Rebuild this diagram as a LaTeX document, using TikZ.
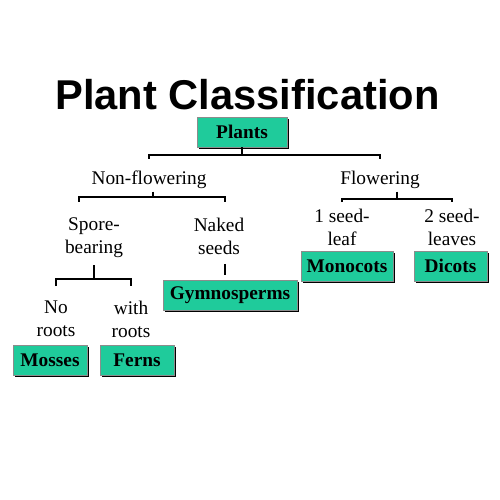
\documentclass[tikz,border=0pt]{standalone}
\usepackage{fontspec}
\setmainfont{Liberation Serif}
\newfontfamily\titlefont{Liberation Sans}
\usetikzlibrary{positioning,shadows}
\definecolor{plantgreen}{RGB}{31,203,155}

\begin{document}
\begin{tikzpicture}[
    taxon/.style={draw=black!45, fill=plantgreen, minimum height=0.6cm, inner sep=1pt,
      font=\fontsize{11}{13}\selectfont\bfseries,
      drop shadow={shadow xshift=0.9pt, shadow yshift=-0.9pt, fill=black, opacity=1}},
    txt/.style={font=\fontsize{11}{13}\selectfont, align=center, inner sep=1pt},
    brk/.style={line width=1.1pt},
  ]
    \useasboundingbox (0,0) rectangle (10,10);

    % Title
    \node[anchor=base, font=\titlefont\bfseries\fontsize{23.7}{26}\selectfont] (title) at (4.95,7.8) {Plant Classification};

    % Groups (green boxes)
    \node[taxon, minimum width=1.8cm] (plants) at (4.84,7.36) {Plants};
    \node[taxon, minimum width=2.68cm] (gymno) at (4.6,4.1) {Gymnosperms};
    \node[taxon, minimum width=1.84cm] (monocots) at (6.94,4.68) {Monocots};
    \node[taxon, minimum width=1.46cm] (dicots) at (9.01,4.68) {Dicots};
    \node[taxon, minimum width=1.48cm] (mosses) at (1.0,2.8) {Mosses};
    \node[taxon, minimum width=1.48cm] (ferns) at (2.74,2.8) {Ferns};

    % Branch labels
    \node[txt] (nonflow) at (2.98,6.405) {Non-flowering};
    \node[txt] (flow) at (7.60,6.405) {Flowering};
    \node[txt] (spore) at (1.88,5.24) {Spore-\\bearing};
    \node[txt] (naked) at (4.38,5.28) {Naked\\seeds};
    \node[txt] (oneleaf) at (6.84,5.45) {1 seed-\\leaf};
    \node[txt] (twoleaf) at (9.04,5.45) {2 seed-\\leaves};
    \node[txt] (noroots) at (1.12,3.62) {No\\roots};
    \node[txt] (withroots) at (2.62,3.62) {with\\roots};

    % Junctions of the brackets
    \coordinate (j1) at ([yshift=-0.16cm]plants.south);
    \coordinate (j2) at ([xshift=0.08cm, yshift=-0.12cm]nonflow.south);
    \coordinate (j3) at ([yshift=-0.38cm]spore.south);
    \coordinate (j4) at ([xshift=0.34cm, yshift=-0.16cm]flow.south);

    % Brackets
    \draw[brk] (plants.south) -- (j1);
    \draw[brk, shorten <=0.2cm, shorten >=0.2cm] (nonflow.north) |- (j1) -| (flow.north);
    \draw[brk, shorten <=0.02cm] ([xshift=0.08cm]nonflow.south) -- (j2);
    \draw[brk, shorten <=0.28cm, shorten >=0.28cm] ([xshift=-0.3cm]spore.north) |- (j2) -| ([xshift=0.12cm]naked.north);
    \draw[brk, shorten <=0.1cm] (spore.south) -- (j3);
    \draw[brk, shorten <=0.26cm, shorten >=0.26cm] (noroots.north) |- (j3) -| (withroots.north);
    \draw[brk, shorten <=0.02cm] ([xshift=0.34cm]flow.south) -- (j4);
    \draw[brk, shorten <=0.1cm, shorten >=0.1cm] (oneleaf.north) |- (j4) -| (twoleaf.north);

    % Naked seeds to Gymnosperms
    \draw[brk, shorten <=0.15cm, shorten >=0.1cm] ([xshift=0.12cm]naked.south) -- ([xshift=0.12cm]naked.south |- gymno.north);

\end{tikzpicture}
\end{document}
